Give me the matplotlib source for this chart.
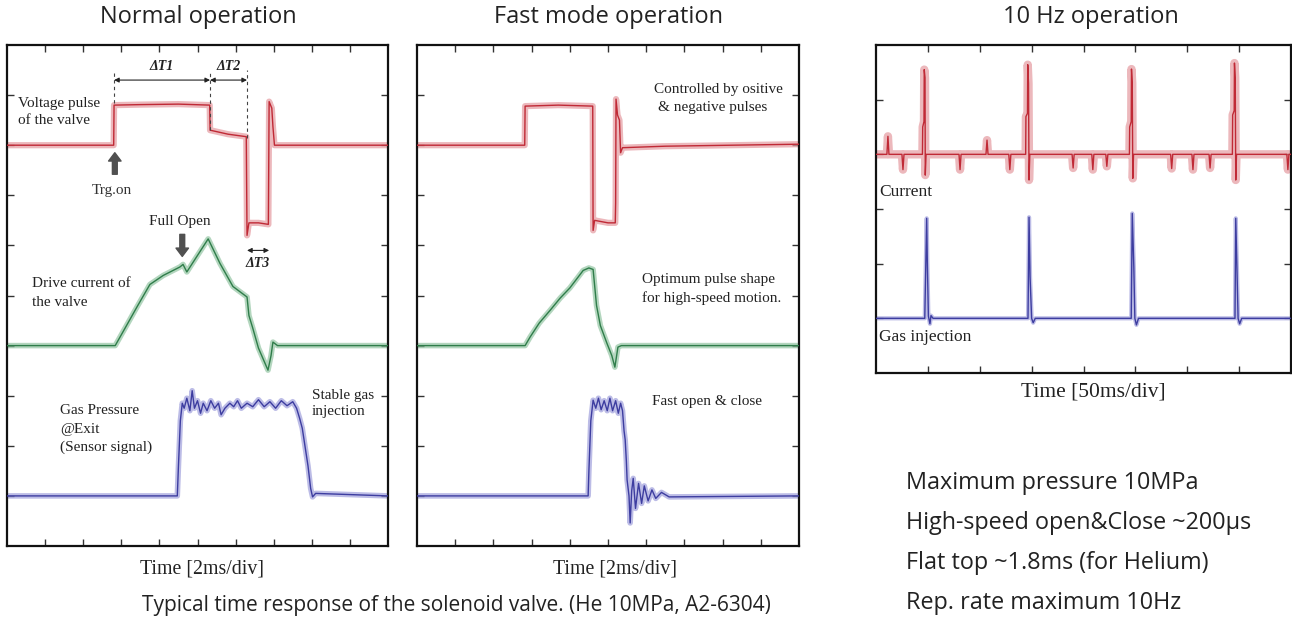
import matplotlib
matplotlib.use("Agg")
import matplotlib.pyplot as plt

W, H = 1292, 624

# ---------------- data (in scope divisions) ----------------
# Panel 1: normal operation
n_volt_x = [0, 2.80, 2.81, 3.5, 4.5, 5.32, 5.33, 5.8, 6.28, 6.30, 6.35, 6.6, 6.86, 6.88, 6.95, 6.98, 7.02, 10]
n_volt_y = [8.0, 8.0, 8.80, 8.81, 8.82, 8.80, 8.30, 8.22, 8.17, 6.20, 6.45, 6.45, 6.42, 8.87, 8.74, 8.37, 8.0, 8.0]
n_curr_x = [0, 2.84, 3.10, 3.41, 3.75, 4.10, 4.54, 4.62, 4.72, 5.00, 5.28, 5.59, 5.93, 6.30, 6.35, 6.45, 6.60, 6.85, 6.93, 6.98, 7.10, 10]
n_curr_y = [4.0, 4.0, 4.35, 4.77, 5.22, 5.40, 5.57, 5.62, 5.47, 5.80, 6.13, 5.64, 5.18, 4.97, 4.60, 4.35, 3.95, 3.51, 3.80, 4.07, 4.0, 4.0]
n_gas_x = [0, 4.47, 4.50, 4.55, 4.60, 4.65, 4.72, 4.80, 4.86, 4.92, 5.00, 5.08, 5.15, 5.25, 5.35, 5.45, 5.55,
           5.62, 5.72, 5.85, 5.95, 6.05, 6.15, 6.30, 6.45, 6.60, 6.75, 6.90, 7.05, 7.20, 7.35, 7.50, 7.60,
           7.68, 7.75, 7.82, 7.90, 7.97, 8.02, 8.10, 10]
n_gas_y = [1.0, 1.0, 1.6, 2.5, 2.85, 2.75, 2.95, 2.70, 3.10, 2.75, 2.90, 2.65, 2.85, 2.70, 2.90, 2.75, 2.85,
           2.62, 2.75, 2.85, 2.78, 2.90, 2.75, 2.85, 2.78, 2.92, 2.78, 2.88, 2.75, 2.90, 2.80, 2.88, 2.75,
           2.55, 2.35, 2.00, 1.60, 1.15, 0.98, 1.05, 1.0]

# Panel 2: fast mode operation
f_volt_x = [0, 2.82, 2.83, 3.7, 4.60, 4.61, 4.65, 5.0, 5.19, 5.20, 5.21, 5.25, 5.30, 5.33, 5.38, 6.5, 10]
f_volt_y = [8.0, 8.0, 8.78, 8.80, 8.78, 6.30, 6.50, 6.45, 6.45, 6.85, 8.92, 8.60, 8.50, 7.85, 7.95, 7.98, 8.02]
f_curr_x = [0, 2.83, 2.96, 3.20, 3.48, 3.75, 4.00, 4.20, 4.35, 4.50, 4.61, 4.65, 4.70, 4.80, 4.97, 5.10, 5.18, 5.26, 5.35, 10]
f_curr_y = [4.0, 4.0, 4.17, 4.45, 4.70, 4.95, 5.15, 5.35, 5.50, 5.55, 5.52, 5.20, 4.80, 4.40, 4.05, 3.80, 3.57, 3.97, 4.0, 4.0]
f_gas_x = [0, 4.48, 4.50, 4.55, 4.61, 4.68, 4.75, 4.82, 4.90, 4.98, 5.05, 5.12, 5.20, 5.27, 5.33, 5.38, 5.42,
           5.45, 5.48, 5.50, 5.55, 5.58, 5.62, 5.66, 5.72, 5.80, 5.88, 5.95, 6.05, 6.15, 6.25, 6.40, 6.60, 10]
f_gas_y = [1.0, 1.0, 1.5, 2.5, 2.91, 2.75, 2.95, 2.72, 2.90, 2.70, 2.95, 2.70, 2.90, 2.65, 2.85, 2.70, 2.30,
           2.12, 1.70, 1.32, 1.0, 0.46, 1.10, 1.35, 0.75, 1.25, 0.85, 1.20, 0.90, 1.12, 0.95, 1.07, 0.98, 1.0]

# Panel 3: 10 Hz operation (50 ms/div)
r_curr_x = [0,
            0.21, 0.23, 0.25, 0.50, 0.52, 0.54,
            0.895, 0.90, 0.925, 0.93, 0.945, 0.95, 0.965,
            1.60, 1.62, 1.64, 2.12, 2.14, 2.16, 2.56, 2.58, 2.60,
            2.885, 2.89, 2.92, 2.925, 2.94, 2.95, 2.965,
            3.78, 3.80, 3.82, 4.16, 4.18, 4.20, 4.43, 4.45, 4.47,
            4.885, 4.89, 4.92, 4.925, 4.94, 4.95, 4.965,
            5.68, 5.70, 5.72, 6.09, 6.11, 6.13, 6.42, 6.44, 6.46,
            6.87, 6.875, 6.905, 6.91, 6.925, 6.935, 6.95,
            7.92, 7.94, 7.96,
            8]
r_curr_y = [4.0,
            4.0, 4.33, 4.0, 4.0, 3.72, 4.0,
            4.0, 4.50, 4.60, 5.55, 5.40, 3.62, 4.0,
            4.0, 3.72, 4.0, 4.0, 4.26, 4.0, 4.0, 3.72, 4.0,
            4.0, 4.69, 4.75, 5.64, 5.30, 3.53, 4.0,
            4.0, 3.75, 4.0, 4.0, 3.72, 4.0, 4.0, 3.78, 4.0,
            4.0, 4.50, 4.60, 5.56, 5.30, 3.56, 4.0,
            4.0, 3.74, 4.0, 4.0, 3.72, 4.0, 4.0, 3.75, 4.0,
            4.0, 4.72, 4.80, 5.67, 5.40, 3.53, 4.0,
            4.0, 3.72, 4.0,
            4.0]
r_gas_x = [0, 0.94, 0.977, 0.99, 1.01, 1.04, 1.06, 1.10, 2.93, 2.95, 2.97, 3.0, 3.03, 3.07, 4.92, 4.94, 4.97,
           4.99, 5.02, 5.06, 6.92, 6.935, 6.96, 6.98, 7.01, 7.05, 8]
r_gas_y = [1.0, 1.0, 2.83, 2.01, 1.04, 0.90, 1.05, 1.0, 1.0, 2.85, 1.76, 1.0, 0.92, 1.0, 1.0, 2.92, 1.94,
           1.0, 0.88, 1.0, 1.0, 2.83, 1.83, 1.0, 0.90, 1.0, 1.0]

titles = ["Normal operation", "Fast mode operation", "10 Hz operation"]
xlabels = ["Time [2ms/div]", "Time [2ms/div]", "Time [50ms/div]"]
spec_lines = ["Maximum pressure 10MPa", "High-speed open&Close ~200\u03bcs",
              "Flat top ~1.8ms (for Helium)", "Rep. rate maximum 10Hz"]
caption = "Typical time response of the solenoid valve. (He 10MPa, A2-6304)"

RED_C, RED_B = "#c02a36", "#e59aa0"
GRN_C, GRN_B = "#2f7d4a", "#93c5a3"
BLU_C, BLU_B = "#3d3da0", "#a0a0dc"
SERIF = ["Liberation Serif", "DejaVu Serif"]
SANS = ["Open Sans", "DejaVu Sans"]

fig = plt.figure(figsize=(W / 100, H / 100), dpi=100)
fig.patch.set_facecolor("white")


def add_ax(l, t, r, b):
    return fig.add_axes([l / W, 1 - b / H, (r - l) / W, (b - t) / H])


def ftext(x, y, s, **kw):
    fig.text(x / W, 1 - y / H, s, **kw)


def trace(ax, x, y, core, band, bw=4.0):
    ax.plot(x, y, color=band, lw=bw, alpha=0.7, solid_joinstyle="round", zorder=2)
    ax.plot(x, y, color=core, lw=1.0, solid_joinstyle="round", zorder=3)


def style(ax, nx, ny):
    ax.set_xlim(0, nx)
    ax.set_ylim(0, ny)
    ax.set_xticks(range(1, nx))
    ax.set_yticks(range(1, ny))
    ax.tick_params(direction="in", length=5, width=1.0, color="#333333",
                   top=True, right=True, labelbottom=False, labelleft=False)
    for sp in ax.spines.values():
        sp.set_linewidth(1.6)
        sp.set_color("#111111")


# ---------------- Panel 1 ----------------
ax1 = add_ax(7, 45, 388, 546)
style(ax1, 10, 10)
trace(ax1, n_volt_x, n_volt_y, RED_C, RED_B, bw=4.5)
trace(ax1, n_curr_x, n_curr_y, GRN_C, GRN_B)
trace(ax1, n_gas_x, n_gas_y, BLU_C, BLU_B)
for xv, y0 in [(2.81, 8.85), (5.33, 8.3), (6.30, 8.15)]:
    ax1.plot([xv, xv], [y0, 9.5], color="#444444", lw=0.8, ls=(0, (3, 3)), zorder=4)
arrow_kw = dict(arrowstyle="<|-|>", color="#222222", lw=0.8, mutation_scale=7, shrinkA=0, shrinkB=0)
ax1.annotate("", xy=(2.81, 9.30), xytext=(5.33, 9.30), arrowprops=arrow_kw)
ax1.annotate("", xy=(5.33, 9.30), xytext=(6.30, 9.30), arrowprops=arrow_kw)
ax1.annotate("", xy=(6.30, 5.90), xytext=(6.88, 5.90), arrowprops=arrow_kw)
dt = dict(family=SERIF, style="italic", weight="bold", fontsize=10,
          ha="center", va="center", color="#222222")
ax1.text(4.07, 9.57, "\u0394T1", **dt)
ax1.text(5.82, 9.57, "\u0394T2", **dt)
ax1.text(6.59, 5.63, "\u0394T3", **dt)
fat = dict(arrowstyle="simple,head_length=0.6,head_width=0.9,tail_width=0.35",
           color="#505050", shrinkA=0, shrinkB=0)
ax1.annotate("", xy=(2.83, 7.85), xytext=(2.83, 7.42), arrowprops=fat)
ax1.annotate("", xy=(4.60, 5.78), xytext=(4.60, 6.22), arrowprops=fat)
ax1.text(2.74, 7.10, "Trg.on", family=SERIF, fontsize=11, ha="center", va="center", color="#333333")
ax1.text(4.54, 6.47, "Full Open", family=SERIF, fontsize=11, ha="center", va="center", color="#222222")

# ---------------- Panel 2 ----------------
ax2 = add_ax(417, 45, 799, 546)
style(ax2, 10, 10)
trace(ax2, f_volt_x, f_volt_y, RED_C, RED_B, bw=4.5)
trace(ax2, f_curr_x, f_curr_y, GRN_C, GRN_B)
trace(ax2, f_gas_x, f_gas_y, BLU_C, BLU_B)

# ---------------- Panel 3 ----------------
ax3 = add_ax(876, 45, 1291, 373)
style(ax3, 8, 6)
trace(ax3, r_curr_x, r_curr_y, RED_C, RED_B, bw=6.0)
trace(ax3, r_gas_x, r_gas_y, BLU_C, BLU_B, bw=3.0)

# ---------------- texts ----------------
lab = dict(family=SERIF, fontsize=11, color="#222222", ha="left", va="center")
ftext(18, 103, "Voltage pulse", **lab)
ftext(18, 121, "of the valve", **lab)
ftext(32, 284, "Drive current of", **lab)
ftext(32, 302, "the valve", **lab)
ftext(60, 411, "Gas Pressure", **lab)
ftext(60, 429, "@Exit", **lab)
ftext(60, 447, "(Sensor signal)", **lab)
ftext(312, 395, "Stable gas", **lab)
ftext(312, 412, "injection", **lab)
ftext(654, 90, "Controlled by ositive", **lab)
ftext(658, 108, "& negative pulses", **lab)
ftext(642, 280, "Optimum pulse shape", **lab)
ftext(642, 298, "for high-speed motion.", **lab)
ftext(652, 402, "Fast open & close", **lab)
lab3 = dict(lab, fontsize=12.5)
ftext(879, 192, "Current", **lab3)
ftext(879, 337, "Gas injection", **lab3)

for cx, s in zip([198, 608, 1091], titles):
    ftext(cx, 17, s, family=SANS, fontsize=17, ha="center", va="center", color="#222222")
for (cx, cy), s, fs in zip([(202, 569), (615, 569), (1093, 392)], xlabels, [14.3, 14.3, 15.5]):
    ftext(cx, cy, s, family=SERIF, fontsize=fs, ha="center", va="center", color="#222222")

for i, s in enumerate(spec_lines):
    ftext(906, 483 + 40 * i, s, family=SANS, fontsize=16.8, ha="left", va="center", color="#222222")
ftext(456, 606, caption, family=SANS, fontsize=15, ha="center", va="center", color="#222222")

fig.savefig("out.png", dpi=100, facecolor="white")
